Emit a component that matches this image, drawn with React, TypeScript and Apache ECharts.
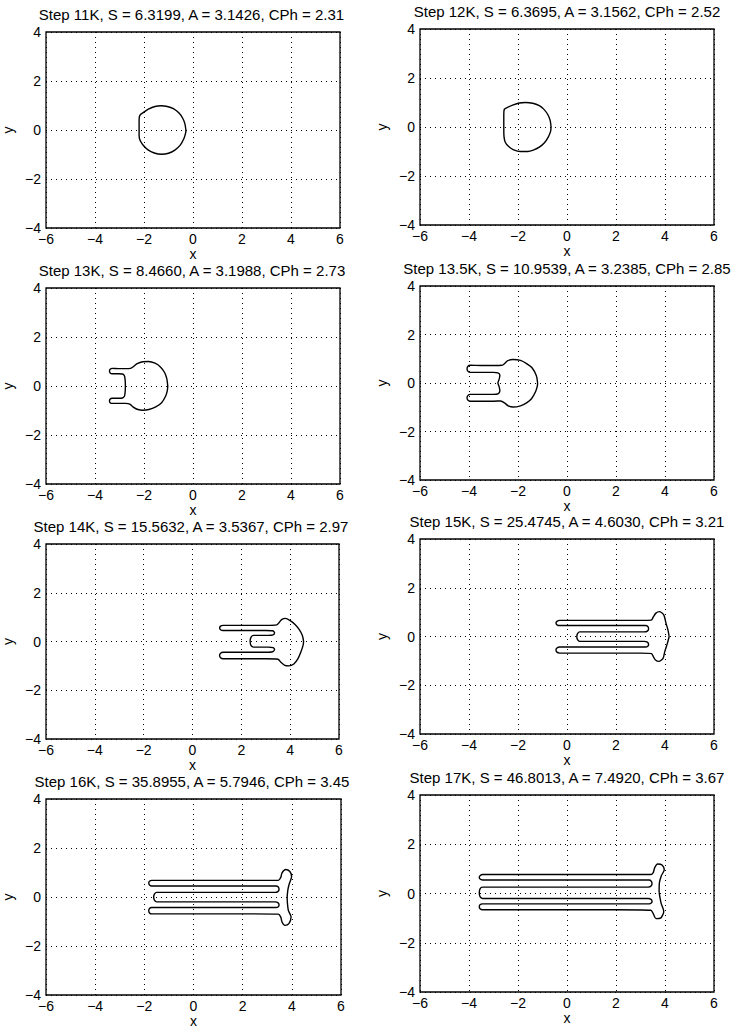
import React, { useEffect, useRef } from "react";
import * as echarts from "echarts";

// Panel titles (simulation step, S, A, CPh)
const titles: string[] = [
  "Step 11K, S = 6.3199, A = 3.1426, CPh = 2.31",
  "Step 12K, S = 6.3695, A = 3.1562, CPh = 2.52",
  "Step 13K, S = 8.4660, A = 3.1988, CPh = 2.73",
  "Step 13.5K, S = 10.9539, A = 3.2385, CPh = 2.85",
  "Step 14K, S = 15.5632, A = 3.5367, CPh = 2.97",
  "Step 15K, S = 25.4745, A = 4.6030, CPh = 3.21",
  "Step 16K, S = 35.8955, A = 5.7946, CPh = 3.45",
  "Step 17K, S = 46.8013, A = 7.4920, CPh = 3.67",
];

// Interface outlines, closed curves [x, y]
const shape11K: number[][] = [
  [-0.29, 0.0], [-0.33, 0.25], [-0.42, 0.48], [-0.58, 0.7], [-0.8, 0.87], [-1.05, 0.96],
  [-1.3, 0.99], [-1.55, 0.96], [-1.82, 0.85], [-2.02, 0.72], [-2.17, 0.6], [-2.2, 0.4],
  [-2.2, 0.1], [-2.2, -0.2], [-2.17, -0.4], [-2.05, -0.6], [-1.85, -0.8], [-1.58, -0.94],
  [-1.28, -0.99], [-1.0, -0.95], [-0.74, -0.82], [-0.52, -0.62], [-0.37, -0.35],
  [-0.3, -0.12], [-0.29, 0.0],
];

const shape12K: number[][] = [
  [-0.65, 0.0], [-0.69, 0.28], [-0.79, 0.52], [-0.95, 0.73], [-1.13, 0.87], [-1.4, 0.97],
  [-1.7, 1.0], [-1.95, 0.98], [-2.22, 0.89], [-2.45, 0.79], [-2.56, 0.72], [-2.58, 0.5],
  [-2.58, 0.2], [-2.58, -0.1], [-2.57, -0.4], [-2.52, -0.62], [-2.38, -0.8], [-2.2, -0.92],
  [-1.9, -1.0], [-1.6, -1.0], [-1.35, -0.93], [-1.13, -0.82], [-0.92, -0.64],
  [-0.76, -0.4], [-0.67, -0.18], [-0.65, 0.0],
];

const shape13K: number[][] = [
  [-1.03, 0.0], [-1.07, 0.3], [-1.16, 0.55], [-1.32, 0.77], [-1.55, 0.93], [-1.82, 1.0],
  [-2.05, 0.99], [-2.28, 0.91], [-2.42, 0.8], [-2.55, 0.72], [-2.75, 0.71], [-3.05, 0.71],
  [-3.3, 0.72], [-3.38, 0.68], [-3.41, 0.61], [-3.38, 0.53], [-3.3, 0.5], [-3.05, 0.5],
  [-2.88, 0.49], [-2.8, 0.42], [-2.77, 0.25], [-2.76, 0.0], [-2.77, -0.25], [-2.8, -0.42],
  [-2.88, -0.49], [-3.05, -0.5], [-3.3, -0.5], [-3.38, -0.53], [-3.41, -0.61], [-3.38, -0.68],
  [-3.3, -0.71], [-3.05, -0.71], [-2.75, -0.71], [-2.58, -0.74], [-2.45, -0.85], [-2.28, -0.95],
  [-2.05, -0.99], [-1.8, -0.96], [-1.52, -0.85], [-1.28, -0.68], [-1.12, -0.42], [-1.05, -0.2],
  [-1.03, 0.0],
];

const shape13_5K: number[][] = [
  [-1.2, 0.0], [-1.25, 0.3], [-1.42, 0.62], [-1.65, 0.8], [-1.9, 0.93], [-2.2, 0.97],
  [-2.42, 0.92], [-2.55, 0.8], [-2.65, 0.73], [-3.0, 0.72], [-3.5, 0.72], [-3.95, 0.73],
  [-4.05, 0.68], [-4.08, 0.58], [-4.04, 0.48], [-3.95, 0.44], [-3.5, 0.44], [-3.0, 0.44],
  [-2.82, 0.42], [-2.74, 0.33], [-2.77, 0.15], [-2.82, 0.0], [-2.77, -0.15], [-2.74, -0.33],
  [-2.82, -0.45], [-3.0, -0.47], [-3.5, -0.47], [-3.95, -0.47], [-4.04, -0.51], [-4.08, -0.61],
  [-4.05, -0.7], [-3.95, -0.75], [-3.5, -0.75], [-3.0, -0.75], [-2.7, -0.74], [-2.55, -0.82],
  [-2.4, -0.94], [-2.2, -0.99], [-1.9, -0.94], [-1.65, -0.82], [-1.45, -0.65], [-1.28, -0.35],
  [-1.21, -0.12], [-1.2, 0.0],
];

const shape14K: number[][] = [
  [4.55, 0.0], [4.5, 0.25], [4.38, 0.48], [4.2, 0.7], [4.0, 0.86], [3.8, 0.95], [3.65, 0.9],
  [3.55, 0.78], [3.45, 0.68], [3.0, 0.66], [2.0, 0.66], [1.25, 0.66], [1.15, 0.63], [1.11, 0.55],
  [1.15, 0.48], [1.25, 0.45], [2.0, 0.45], [3.0, 0.45], [3.28, 0.44], [3.36, 0.36], [3.3, 0.27],
  [3.1, 0.25], [2.5, 0.25], [2.4, 0.18], [2.36, 0.01], [2.4, -0.17], [2.5, -0.23], [3.1, -0.23],
  [3.3, -0.25], [3.36, -0.33], [3.28, -0.42], [3.0, -0.44], [2.0, -0.44], [1.25, -0.44],
  [1.15, -0.48], [1.11, -0.57], [1.15, -0.67], [1.25, -0.71], [2.0, -0.71], [3.0, -0.71],
  [3.5, -0.73], [3.62, -0.85], [3.78, -0.98], [3.95, -1.0], [4.15, -0.92], [4.32, -0.7],
  [4.45, -0.4], [4.53, -0.15], [4.55, 0.0],
];

const shape15K: number[][] = [
  [4.17, 0.0], [4.12, 0.27], [4.04, 0.55], [3.95, 0.89], [3.77, 1.02], [3.63, 0.96],
  [3.52, 0.8], [3.44, 0.67], [3.0, 0.66], [1.5, 0.66], [-0.3, 0.66], [-0.41, 0.62],
  [-0.45, 0.55], [-0.41, 0.48], [-0.3, 0.45], [1.5, 0.45], [3.2, 0.45], [3.3, 0.41],
  [3.33, 0.32], [3.28, 0.22], [3.15, 0.19], [1.5, 0.19], [0.52, 0.19], [0.43, 0.12],
  [0.4, 0.0], [0.43, -0.13], [0.52, -0.2], [1.5, -0.2], [3.15, -0.2], [3.28, -0.23],
  [3.33, -0.32], [3.3, -0.4], [3.2, -0.43], [1.5, -0.43], [-0.3, -0.43], [-0.41, -0.47],
  [-0.45, -0.55], [-0.41, -0.64], [-0.3, -0.68], [1.5, -0.68], [3.0, -0.68], [3.45, -0.7],
  [3.52, -0.82], [3.6, -0.95], [3.75, -1.02], [3.92, -0.9], [3.99, -0.62], [4.1, -0.27],
  [4.17, 0.0],
];

const shape16K: number[][] = [
  [3.81, 0.0], [3.84, 0.3], [3.9, 0.55], [3.99, 0.83], [3.92, 1.04], [3.75, 1.12],
  [3.6, 0.98], [3.55, 0.8], [3.45, 0.68], [2.0, 0.68], [0.0, 0.68], [-1.7, 0.68],
  [-1.79, 0.64], [-1.82, 0.57], [-1.79, 0.49], [-1.7, 0.45], [0.0, 0.45], [2.0, 0.45],
  [3.35, 0.45], [3.45, 0.41], [3.48, 0.32], [3.43, 0.22], [3.32, 0.19], [1.0, 0.19],
  [-1.5, 0.19], [-1.59, 0.12], [-1.62, 0.0], [-1.59, -0.13], [-1.5, -0.2], [1.0, -0.2],
  [3.32, -0.2], [3.43, -0.23], [3.48, -0.32], [3.45, -0.4], [3.35, -0.43], [2.0, -0.43],
  [0.0, -0.43], [-1.7, -0.43], [-1.79, -0.47], [-1.82, -0.56], [-1.79, -0.65], [-1.7, -0.69],
  [0.0, -0.69], [2.0, -0.69], [3.45, -0.7], [3.55, -0.82], [3.6, -1.02], [3.72, -1.16],
  [3.88, -1.09], [3.97, -0.82], [3.86, -0.55], [3.82, -0.25], [3.81, 0.0],
];

const shape17K: number[][] = [
  [3.76, 0.05], [3.77, 0.42], [3.85, 0.72], [3.97, 0.96], [3.88, 1.16], [3.7, 1.2],
  [3.58, 1.05], [3.52, 0.85], [3.42, 0.77], [2.0, 0.77], [0.0, 0.77], [-3.45, 0.77],
  [-3.55, 0.72], [-3.58, 0.66], [-3.55, 0.59], [-3.45, 0.55], [0.0, 0.55], [2.0, 0.55],
  [3.35, 0.55], [3.44, 0.5], [3.47, 0.41], [3.43, 0.3], [3.32, 0.26], [1.0, 0.26],
  [-3.45, 0.26], [-3.55, 0.19], [-3.58, 0.03], [-3.55, -0.13], [-3.45, -0.2], [1.0, -0.2],
  [3.32, -0.2], [3.43, -0.24], [3.47, -0.31], [3.44, -0.39], [3.35, -0.42], [2.0, -0.42],
  [0.0, -0.42], [-3.45, -0.42], [-3.55, -0.46], [-3.58, -0.54], [-3.55, -0.62], [-3.45, -0.66],
  [0.0, -0.66], [2.0, -0.66], [3.42, -0.68], [3.52, -0.82], [3.63, -1.02], [3.82, -1.0],
  [3.95, -0.73], [3.84, -0.39], [3.76, 0.05],
];

const shapes: number[][][] = [
  shape11K, shape12K, shape13K, shape13_5K, shape14K, shape15K, shape16K, shape17K,
];

// Axis ranges
const xRange = [-6, 6];
const yRange = [-4, 4];
const tickStep = 2;

// Plot boxes: [left, top, width, height] in pixels
const boxes: number[][] = [
  [43, 32, 297, 196],
  [420, 29, 294, 196],
  [44, 288, 296, 196],
  [420, 286, 294, 194],
  [43, 544, 296, 195],
  [420, 539, 294, 195],
  [43, 799, 298, 196],
  [420, 795, 294, 197],
];

// Title centre line sits this far above its box; x-axis name gap below each box
const titleOffset = 18;
const xNameGap = [16, 16, 16, 16, 16, 16, 19, 19];

const FONT = "'Liberation Sans', Arial, Helvetica, sans-serif";

const fmt = (v: number) => (v < 0 ? "\u2212" + Math.abs(v) : String(v));

export default function App() {
  const ref = useRef<HTMLDivElement>(null);

  useEffect(() => {
    if (!ref.current) return;
    const chart = echarts.init(ref.current, undefined, { renderer: "svg" });

    const grid = boxes.map(([left, top, width, height]) => ({
      left, top, width, height,
      show: true,
      borderColor: "#000",
      borderWidth: 1.3,
      backgroundColor: "#fff",
      containLabel: false,
    }));

    const xAxis = boxes.map((_, i) => ({
      type: "value",
      gridIndex: i,
      min: xRange[0],
      max: xRange[1],
      interval: tickStep,
      name: "x",
      nameLocation: "middle",
      nameGap: xNameGap[i],
      nameTextStyle: { color: "#000", fontSize: 14, fontFamily: FONT },
      axisLine: { show: false },
      axisTick: { show: false },
      axisLabel: { color: "#000", fontSize: 14, fontFamily: FONT, margin: 4, formatter: fmt },
      splitLine: { show: true, lineStyle: { color: "#000", width: 1, type: [1, 4] } },
    }));

    const yAxis = boxes.map((_, i) => ({
      type: "value",
      gridIndex: i,
      min: yRange[0],
      max: yRange[1],
      interval: tickStep,
      name: "y",
      nameLocation: "middle",
      nameGap: 31,
      nameTextStyle: { color: "#000", fontSize: 14, fontFamily: FONT },
      axisLine: { show: false },
      axisTick: { show: false },
      axisLabel: { color: "#000", fontSize: 14, fontFamily: FONT, margin: 5, formatter: fmt },
      splitLine: { show: true, lineStyle: { color: "#000", width: 1, type: [1, 4] } },
    }));

    const series = shapes.map((pts, i) => ({
      type: "line",
      xAxisIndex: i,
      yAxisIndex: i,
      data: pts,
      showSymbol: false,
      smooth: 0.25,
      lineStyle: { color: "#000", width: 1.4 },
      silent: true,
    }));

    const titleTexts = titles.map((t, i) => {
      const [left, top, width] = boxes[i];
      return {
        type: "text",
        x: left + width / 2,
        y: top - titleOffset,
        style: {
          text: t,
          fill: "#000",
          font: `15px ${FONT}`,
          textAlign: "center",
          textVerticalAlign: "middle",
        },
      };
    });

    chart.setOption({
      animation: false,
      backgroundColor: "#fff",
      grid,
      xAxis,
      yAxis,
      series,
      graphic: titleTexts,
    });

    return () => chart.dispose();
  }, []);

  return (
    <div
      ref={ref}
      style={{ position: "absolute", left: 0, top: 0, width: 731, height: 1031, background: "#fff" }}
    />
  );
}
